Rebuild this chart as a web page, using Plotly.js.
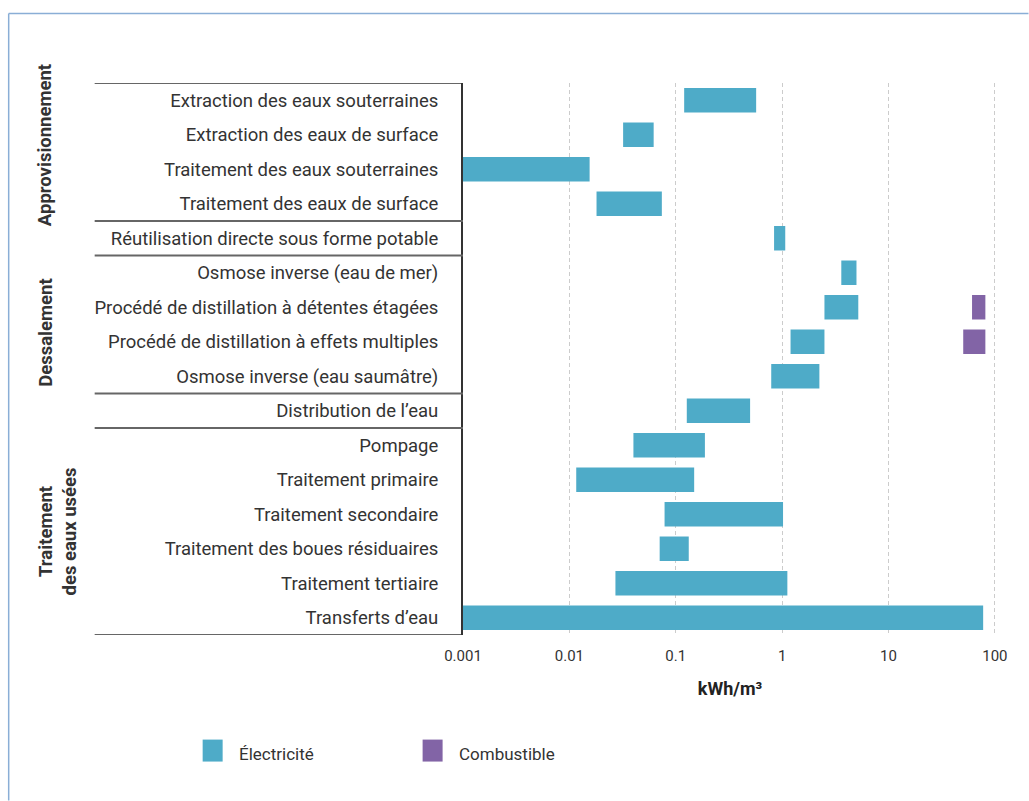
<!DOCTYPE html>
<html>
<head>
<meta charset="utf-8">
<script src="https://cdn.plot.ly/plotly-3.0.1.min.js"></script>
<style>
html,body{margin:0;padding:0;background:#fff;}
#chart{width:1029px;height:801px;}
</style>
</head>
<body>
<div id="chart"></div>
<script>
// ---- data ----
const categories = [
  "Extraction des eaux souterraines",
  "Extraction des eaux de surface",
  "Traitement des eaux souterraines",
  "Traitement des eaux de surface",
  "Réutilisation directe sous forme potable",
  "Osmose inverse (eau de mer)",
  "Procédé de distillation à détentes étagées",
  "Procédé de distillation à effets multiples",
  "Osmose inverse (eau saumâtre)",
  "Distribution de l’eau",
  "Pompage",
  "Traitement primaire",
  "Traitement secondaire",
  "Traitement des boues résiduaires",
  "Traitement tertiaire",
  "Transferts d’eau"
];
const elecLow  = [0.12, 0.032, 0.001, 0.018, 0.84, 3.6, 2.5, 1.2, 0.79, 0.127, 0.040, 0.0116, 0.0785, 0.0706, 0.0271, 0.001];
const elecHigh = [0.57, 0.062, 0.0155, 0.074, 1.07, 5.0, 5.2, 2.5, 2.24, 0.50, 0.188, 0.149, 1.02, 0.1325, 1.12, 77.6];
const fuelCategories = [
  "Procédé de distillation à détentes étagées",
  "Procédé de distillation à effets multiples"
];
const fuelLow  = [61, 50.4];
const fuelHigh = [81.4, 81.4];
const groups = ["Approvisionnement", "Dessalement", "Traitement<br>des eaux usées"];
const seriesNames = ["Électricité", "Combustible"];
const tickVals = [0.001, 0.01, 0.1, 1, 10, 100];
const tickText = ["0.001", "0.01", "0.1", "1", "10", "100"];
const xTitle = "kWh/m³";

// ---- layout geometry ----
const W = 1029, H = 801;
const M = {l: 463.4, r: 31.5, t: 82.7, b: 165.7};
const PW = W - M.l - M.r, PH = H - M.t - M.b;
const px = x => (x - M.l) / PW;
const py = y => (H - M.b - y) / PH;

const elecColor = "#4eabc8";
const fuelColor = "#8264a6";
const textColor = "#333333";
const FONT = "Roboto, 'Noto Sans', sans-serif";

const traces = [
  {
    type: "bar", orientation: "h", name: seriesNames[0],
    y: categories,
    base: elecLow,
    x: elecHigh.map((h, i) => h - elecLow[i]),
    marker: {color: elecColor},
    width: 0.71,
    showlegend: false,
    hoverinfo: "skip"
  },
  {
    type: "bar", orientation: "h", name: seriesNames[1],
    y: fuelCategories,
    base: fuelLow,
    x: fuelHigh.map((h, i) => h - fuelLow[i]),
    marker: {color: fuelColor},
    width: 0.71,
    showlegend: false,
    hoverinfo: "skip"
  }
];

const shapes = [];
// frame (top and left edges)
shapes.push({type: "line", xref: "paper", yref: "paper", x0: px(9), x1: px(1029), y0: py(13), y1: py(13), line: {color: "#8aaed6", width: 1.5}, layer: "below"});
shapes.push({type: "line", xref: "paper", yref: "paper", x0: px(9), x1: px(9), y0: py(13), y1: py(801), line: {color: "#8aaed6", width: 1.5}, layer: "below"});
// table separators
const boundaries = [-0.5, 3.5, 4.5, 8.5, 9.5, 15.5];
boundaries.forEach((b, i) => {
  const outer = (i === 0 || i === boundaries.length - 1);
  shapes.push({type: "line", xref: "paper", yref: "y", x0: px(95), x1: 0, y0: b, y1: b,
    line: {color: outer ? "#333333" : "#666666", width: outer ? 1.5 : 2}});
});
// legend squares
shapes.push({type: "rect", xref: "paper", yref: "paper", x0: px(203), x1: px(223), y0: py(740), y1: py(762), fillcolor: elecColor, line: {width: 0}});
shapes.push({type: "rect", xref: "paper", yref: "paper", x0: px(423), x1: px(443), y0: py(740), y1: py(762), fillcolor: fuelColor, line: {width: 0}});

const groupFont = {family: FONT, size: 18.5, color: textColor, weight: "bold"};
const annotations = [
  {text: groups[0], xref: "paper", yref: "y", x: px(46), y: 1.31, textangle: -90, showarrow: false,
   font: groupFont, xanchor: "center", yanchor: "middle"},
  {text: groups[1], xref: "paper", yref: "y", x: px(46), y: 6.75, textangle: -90, showarrow: false,
   font: groupFont, xanchor: "center", yanchor: "middle"},
  {text: groups[2], xref: "paper", yref: "y", x: px(58), y: 12.51, textangle: -90, showarrow: false,
   font: groupFont, xanchor: "center", yanchor: "middle"},
  {text: seriesNames[0], xref: "paper", yref: "paper", x: px(237), y: py(754), xanchor: "left", yanchor: "middle",
   showarrow: false, font: {family: FONT, size: 17, color: textColor}},
  {text: seriesNames[1], xref: "paper", yref: "paper", x: px(457.5), y: py(754), xanchor: "left", yanchor: "middle",
   showarrow: false, font: {family: FONT, size: 17, color: textColor}}
];

const layout = {
  width: W, height: H,
  margin: M,
  paper_bgcolor: "#ffffff", plot_bgcolor: "#ffffff",
  font: {family: FONT, color: textColor},
  barmode: "overlay",
  showlegend: false,
  xaxis: {
    type: "log",
    range: [-3, Math.log10(100) + 0.02],
    tickvals: tickVals, ticktext: tickText,
    tickfont: {family: FONT, size: 15, color: textColor},
    ticklabelstandoff: 10,
    showgrid: true, gridcolor: "#cccccc", gridwidth: 1, griddash: "4px,3px",
    zeroline: false, showline: false, ticks: "",
    title: {text: xTitle, font: {family: FONT, size: 18, color: "#222222", weight: "bold"}, standoff: 18},
    fixedrange: true
  },
  yaxis: {
    type: "category",
    categoryorder: "array", categoryarray: categories,
    range: [15.5, -0.5],
    tickfont: {family: FONT, size: 18.5, color: textColor},
    ticks: "", ticklabelstandoff: 19,
    showgrid: false, zeroline: false,
    showline: true, linecolor: "#333333", linewidth: 2,
    fixedrange: true
  },
  shapes: shapes,
  annotations: annotations
};

Plotly.newPlot("chart", traces, layout, {displayModeBar: false, staticPlot: true});
</script>
</body>
</html>
